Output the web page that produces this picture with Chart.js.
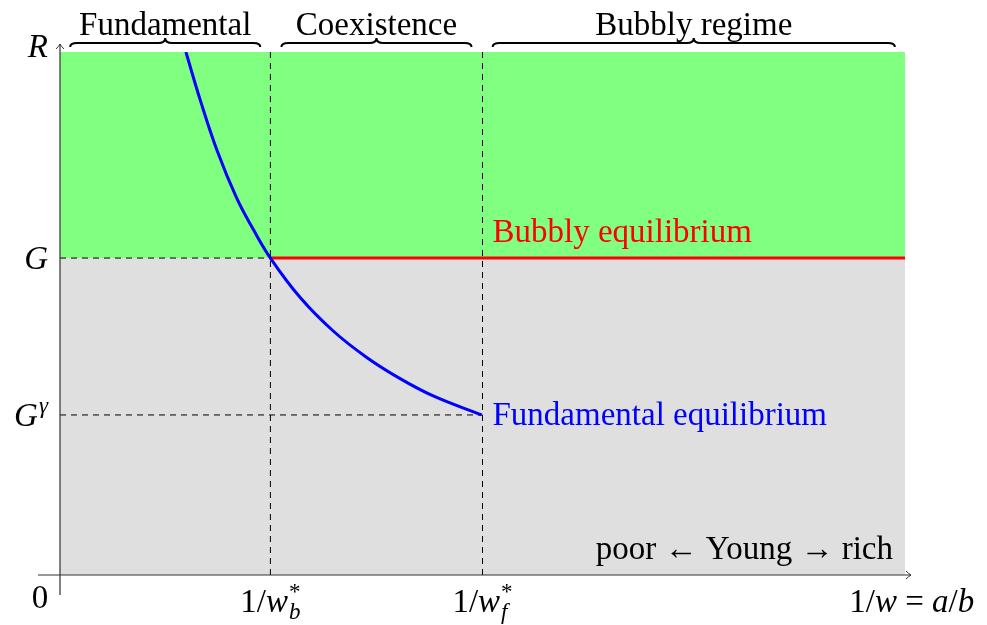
<!DOCTYPE html>
<html>
<head>
<meta charset="utf-8">
<script src="https://cdn.jsdelivr.net/npm/chart.js@4"></script>
<style>
  body { margin: 0; background: #fff; }
  #wrap { width: 987px; height: 625px; }
</style>
</head>
<body>
<div id="wrap"><canvas id="regimeChart" width="987" height="625"></canvas></div>
<script>
/* ---------- data (model units, axes 0..10) ---------- */
const yR = 10;        // top of the plot, "R"
const yG = 6.06;      // G
const yGg = 3.06;     // G^gamma
const xWb = 2.49;     // 1/w_b*
const xWf = 5.0;      // 1/w_f*
const xEnd = 10;

// fundamental equilibrium curve
const fundX = [1.49, 1.66, 1.86, 2.09, 2.29, 2.49, 2.84, 3.23, 3.63, 4.02, 4.41, 4.99];
const fundY = [10.0, 9.08, 8.11, 7.21, 6.60, 6.06, 5.31, 4.67, 4.16, 3.76, 3.43, 3.06];

// regime braces on top
const regimeLabels = ["Fundamental", "Coexistence", "Bubbly regime"];
const regimeFrom = [0.12, 2.62, 5.12];
const regimeTo = [2.37, 4.87, 9.88];

// tick labels
const xTickVals = [xWb, xWf, 10.08];
const yTickVals = [yR, yG, yGg];

const SERIF = "'Liberation Serif', 'DejaVu Serif', serif";
const FS = 33;

function pts(xs, ys) {
    return xs.map((x, i) => ({ x: x, y: ys[i] }));
}

/* ---------- little math-text helper ---------- */
// part: {t, it} or {sup, sub}
function mathWidth(ctx, parts, size) {
    let w = 0;
    parts.forEach((p) => {
        if (p.t !== undefined) {
            ctx.font = (p.it ? "italic " : "") + size + "px " + SERIF;
            w += ctx.measureText(p.t).width;
        } else {
            const s = Math.round(size * 0.7);
            ctx.font = "italic " + s + "px " + SERIF;
            w += Math.max(p.sup ? ctx.measureText(p.sup).width : 0, p.sub ? ctx.measureText(p.sub).width : 0) + 1;
        }
    });
    return w;
}

function drawMath(ctx, parts, x, y, align, size, color) {
    const w = mathWidth(ctx, parts, size);
    let cx = align === "center" ? x - w / 2 : (align === "right" ? x - w : x);
    ctx.fillStyle = color || "#000";
    ctx.textAlign = "left";
    ctx.textBaseline = "alphabetic";
    parts.forEach((p) => {
        if (p.t !== undefined) {
            ctx.font = (p.it ? "italic " : "") + size + "px " + SERIF;
            ctx.fillText(p.t, cx, y);
            cx += ctx.measureText(p.t).width;
        } else {
            const s = Math.round(size * 0.7);
            ctx.font = (p.upSup ? "" : "italic ") + s + "px " + SERIF;
            let ww = 0;
            if (p.sup) { ctx.fillText(p.sup, cx + 1, y - size * 0.38); ww = ctx.measureText(p.sup).width; }
            ctx.font = "italic " + s + "px " + SERIF;
            if (p.sub) { ctx.fillText(p.sub, cx + 1, y + size * 0.22); ww = Math.max(ww, ctx.measureText(p.sub).width); }
            cx += ww + 1;
        }
    });
}

const xTickParts = [
    [{ t: "1/" }, { t: "w", it: true }, { sup: "*", sub: "b", upSup: true }],
    [{ t: "1/" }, { t: "w", it: true }, { sup: "*", sub: "f", upSup: true }],
    [{ t: "1/" }, { t: "w", it: true }, { t: " = " }, { t: "a", it: true }, { t: "/" }, { t: "b", it: true }]
];
const yTickParts = [
    [{ t: "R", it: true }],
    [{ t: "G", it: true }],
    [{ t: "G", it: true }, { sup: "γ" }]
];
const yTickNudge = [-6, 0, 0];

/* ---------- overlay: axes, braces, labels ---------- */
const overlay = {
    id: "overlay",
    afterDatasetsDraw(chart) {
        const ctx = chart.ctx;
        const sx = chart.scales.x, sy = chart.scales.y;
        const x0 = sx.getPixelForValue(0), y0 = sy.getPixelForValue(0);
        const xr = sx.getPixelForValue(xEnd), yt = sy.getPixelForValue(yR);
        ctx.save();

        // axes
        ctx.strokeStyle = "#333";
        ctx.lineWidth = 1.2;
        ctx.beginPath();
        ctx.moveTo(x0 - 22, y0); ctx.lineTo(xr + 6, y0);
        ctx.moveTo(x0, y0 + 20); ctx.lineTo(x0, yt - 8);
        ctx.stroke();
        ctx.lineWidth = 1;
        ctx.beginPath();
        ctx.moveTo(xr + 1, y0 - 4); ctx.quadraticCurveTo(xr + 4, y0 - 1, xr + 6, y0);
        ctx.quadraticCurveTo(xr + 4, y0 + 1, xr + 1, y0 + 4);
        ctx.moveTo(x0 - 4, yt - 3); ctx.quadraticCurveTo(x0 - 1, yt - 6, x0, yt - 8);
        ctx.quadraticCurveTo(x0 + 1, yt - 6, x0 + 4, yt - 3);
        ctx.stroke();

        // braces
        ctx.strokeStyle = "#000";
        ctx.lineWidth = 2;
        regimeLabels.forEach((lab, i) => {
            const a = sx.getPixelForValue(regimeFrom[i]);
            const b = sx.getPixelForValue(regimeTo[i]);
            const m = (a + b) / 2;
            ctx.beginPath();
            ctx.moveTo(a, 47);
            ctx.quadraticCurveTo(a, 43, a + 7, 43);
            ctx.lineTo(m - 7, 43);
            ctx.quadraticCurveTo(m, 43, m, 38);
            ctx.quadraticCurveTo(m, 43, m + 7, 43);
            ctx.lineTo(b - 7, 43);
            ctx.quadraticCurveTo(b, 43, b, 47);
            ctx.stroke();
            ctx.font = FS + "px " + SERIF;
            ctx.fillStyle = "#000";
            ctx.textAlign = "center";
            ctx.textBaseline = "alphabetic";
            ctx.fillText(lab, m, 35);
        });

        // tick labels
        xTickVals.forEach((v, i) => {
            drawMath(ctx, xTickParts[i], sx.getPixelForValue(v), 612, "center", FS);
        });
        yTickVals.forEach((v, i) => {
            drawMath(ctx, yTickParts[i], x0 - 12, sy.getPixelForValue(v) + 11 + yTickNudge[i], "right", FS);
        });
        drawMath(ctx, [{ t: "0" }], x0 - 20, y0 + 33, "center", FS);

        // curve labels
        ctx.textAlign = "left";
        ctx.textBaseline = "alphabetic";
        ctx.font = FS + "px " + SERIF;
        ctx.fillStyle = "#ff0000";
        ctx.fillText("Bubbly equilibrium", sx.getPixelForValue(xWf) + 10, sy.getPixelForValue(yG) - 16);
        ctx.fillStyle = "#0000ff";
        ctx.textBaseline = "middle";
        ctx.fillText("Fundamental equilibrium", sx.getPixelForValue(xWf) + 10, sy.getPixelForValue(yGg) + 1);

        ctx.fillStyle = "#000";
        ctx.textAlign = "right";
        ctx.textBaseline = "alphabetic";
        ctx.fillText("poor \u2190 Young \u2192 rich", xr - 12, y0 - 16);
        ctx.restore();
    }
};

const dash = { borderColor: "#000", borderWidth: 1, borderDash: [6, 5], pointRadius: 0, fill: false, order: 5 };

new Chart(document.getElementById("regimeChart"), {
    type: "line",
    data: {
        datasets: [
            { data: pts(fundX, fundY), borderColor: "#0000ff", borderWidth: 3, pointRadius: 0,
              tension: 0.4, fill: false, order: 1 },
            { data: pts([xWb, xEnd], [yG, yG]), borderColor: "#ff0000", borderWidth: 3, pointRadius: 0, fill: false, order: 2 },
            Object.assign({ data: pts([xWb, xWb], [0, yR]) }, dash),
            Object.assign({ data: pts([xWf, xWf], [0, yR]) }, dash),
            Object.assign({ data: pts([0, xWb], [yG, yG]) }, dash),
            Object.assign({ data: pts([0, xWf], [yGg, yGg]) }, dash),
            { data: pts([0, xEnd], [yR, yR]), borderWidth: 0, pointRadius: 0, borderColor: "rgba(0,0,0,0)",
              backgroundColor: "#80ff80", fill: { value: yG }, order: 10 },
            { data: pts([0, xEnd], [yG, yG]), borderWidth: 0, pointRadius: 0, borderColor: "rgba(0,0,0,0)",
              backgroundColor: "#dfdfdf", fill: "origin", order: 11 }
        ]
    },
    options: {
        responsive: false,
        animation: false,
        layout: { padding: { left: 60, right: 82, top: 52, bottom: 50 } },
        plugins: { legend: { display: false }, tooltip: { enabled: false } },
        scales: {
            x: { type: "linear", min: 0, max: 10, display: false },
            y: { type: "linear", min: 0, max: 10, display: false }
        }
    },
    plugins: [overlay]
});
</script>
</body>
</html>
